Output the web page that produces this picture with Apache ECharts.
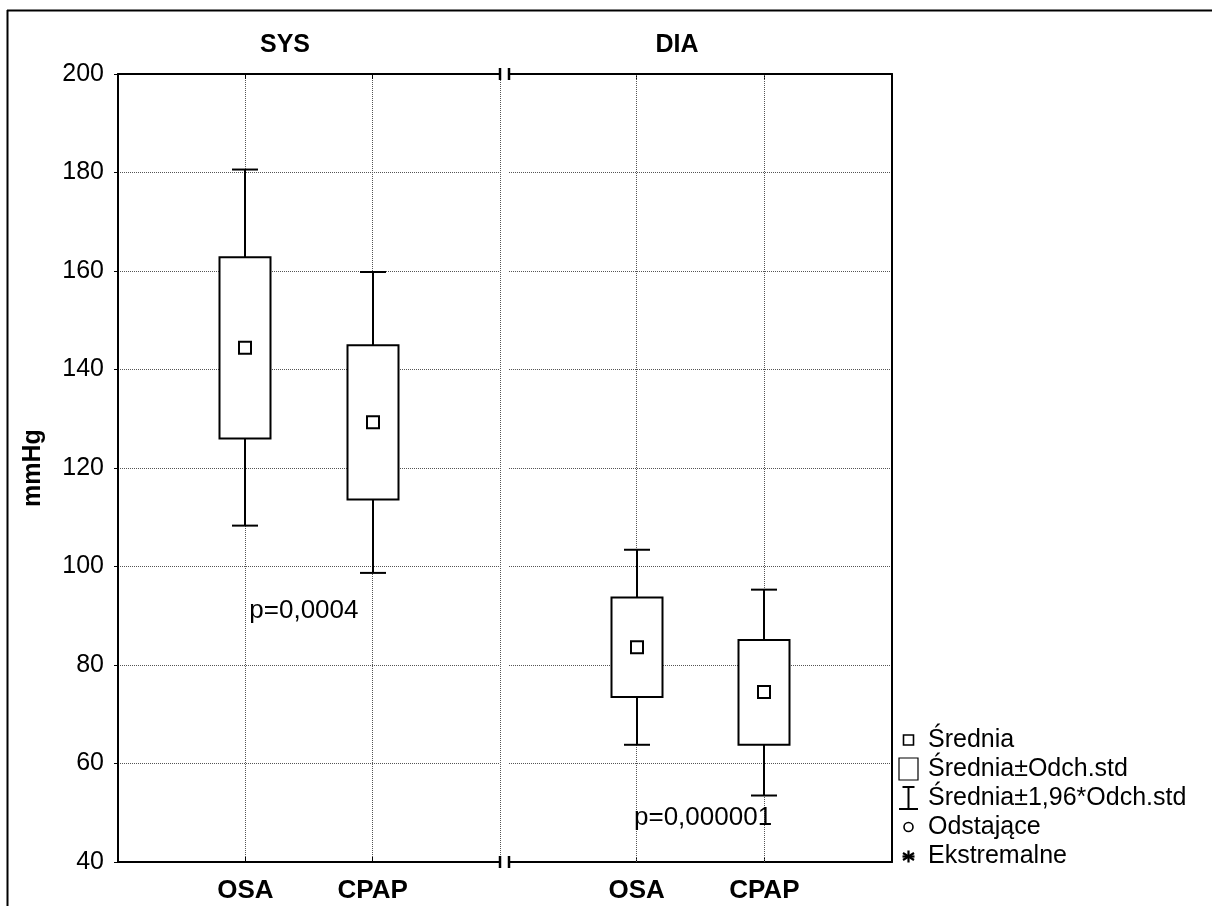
<!DOCTYPE html>
<html>
<head>
<meta charset="utf-8">
<title>SYS / DIA</title>
<script src="https://cdn.jsdelivr.net/npm/echarts@6/dist/echarts.min.js"></script>
<style>
  html, body { margin: 0; padding: 0; background: #fff; }
  #chart { width: 1212px; height: 906px; }
</style>
</head>
<body>
<div id="chart"></div>
<script>
// dane (mmHg)
var panels = ["SYS", "DIA"];
var categories = ["OSA", "CPAP"];
var yMin = 40, yMax = 200, yStep = 20;

var sysMean = [144.4, 129.3];
var sysSdLow = [126.0, 113.6];
var sysSdHigh = [162.8, 144.9];
var sysCiLow = [108.3, 98.7];
var sysCiHigh = [180.6, 159.8];

var diaMean = [83.6, 74.5];
var diaSdLow = [73.5, 63.8];
var diaSdHigh = [93.7, 85.1];
var diaCiLow = [63.8, 53.5];
var diaCiHigh = [103.4, 95.3];

var pTexts = ["p=0,0004", "p=0,000001"];
var pPos = [[1.46, 91.0], [1.52, 48.9]];

var legendTexts = ["Średnia", "Średnia±Odch.std", "Średnia±1,96*Odch.std", "Odstające", "Ekstremalne"];

var FONT = 'Arial, "Liberation Sans", sans-serif';
var GRID_LINE = { show: true, lineStyle: { type: "dotted", color: "#555", width: 1 } };

function rows(mean, sdLo, sdHi, ciLo, ciHi) {
  return categories.map(function (c, i) {
    return [i + 1, ciLo[i], sdLo[i], mean[i], sdHi[i], ciHi[i]];
  });
}

function ln(x1, y1, x2, y2) {
  return { type: "line", shape: { x1: x1, y1: y1, x2: x2, y2: y2 }, style: { stroke: "#000", lineWidth: 2 } };
}

function renderBox(params, api) {
  var x = api.value(0);
  var lo = api.coord([x, api.value(1)]);
  var bLo = api.coord([x, api.value(2)]);
  var m = api.coord([x, api.value(3)]);
  var bHi = api.coord([x, api.value(4)]);
  var hi = api.coord([x, api.value(5)]);
  var cx = Math.round(m[0]);
  var bw = 51, cw = 26, ms = 12;
  return {
    type: "group",
    children: [
      ln(cx, hi[1], cx, bHi[1]),
      ln(cx, lo[1], cx, bLo[1]),
      ln(cx - cw / 2, hi[1], cx + cw / 2, hi[1]),
      ln(cx - cw / 2, lo[1], cx + cw / 2, lo[1]),
      {
        type: "rect",
        shape: { x: cx - bw / 2, y: bHi[1], width: bw, height: bLo[1] - bHi[1] },
        style: { fill: "#fff", stroke: "#000", lineWidth: 2 }
      },
      {
        type: "rect",
        shape: { x: cx - ms / 2, y: m[1] - ms / 2, width: ms, height: ms },
        style: { fill: "#fff", stroke: "#000", lineWidth: 2 }
      }
    ]
  };
}

function textRenderer(label) {
  return function (params, api) {
    var p = api.coord([api.value(0), api.value(1)]);
    return {
      type: "text",
      x: p[0], y: p[1],
      style: { text: label, fill: "#000", font: "26px " + FONT, align: "center", verticalAlign: "middle" }
    };
  };
}

function xAxisBottom(gi) {
  return {
    type: "value", gridIndex: gi, min: 0, max: 3, interval: 1, position: "bottom",
    axisLine: { show: true, onZero: false, lineStyle: { color: "#000", width: 2 } },
    axisTick: { show: true, inside: true, length: 5, lineStyle: { color: "#000", width: 1 } },
    axisLabel: {
      margin: 16, color: "#000", fontSize: 26, fontWeight: "bold", fontFamily: FONT,
      formatter: function (v) { return categories[v - 1] || ""; }
    },
    splitLine: gi === 0 ? GRID_LINE : { show: false }
  };
}

function xAxisTop(gi) {
  return {
    type: "value", gridIndex: gi, min: 0, max: 3, interval: 1, position: "top",
    axisLine: { show: true, onZero: false, lineStyle: { color: "#000", width: 2 } },
    axisTick: { show: true, inside: true, length: 5, lineStyle: { color: "#000", width: 1 } },
    axisLabel: { show: false },
    splitLine: { show: false }
  };
}

var chart = echarts.init(document.getElementById("chart"));

var titleStyle = { fontSize: 25, fontWeight: "bold", color: "#000", fontFamily: FONT };

var option = {
  backgroundColor: "#fff",
  animation: false,
  title: [
    { text: panels[0], left: 280, top: 28, textAlign: "center", textStyle: titleStyle },
    { text: panels[1], left: 672, top: 28, textAlign: "center", textStyle: titleStyle }
  ],
  grid: [
    { left: 118, top: 74, width: 382, height: 788, outerBoundsMode: "none" },
    { left: 509, top: 74, width: 383, height: 788, outerBoundsMode: "none" }
  ],
  xAxis: [xAxisBottom(0), xAxisBottom(1), xAxisTop(0), xAxisTop(1)],
  yAxis: [
    {
      type: "value", gridIndex: 0, min: yMin, max: yMax, interval: yStep, position: "left",
      name: "mmHg", nameLocation: "middle", nameGap: 72, nameRotate: 90,
      nameTextStyle: { fontSize: 25, fontWeight: "bold", color: "#000", fontFamily: FONT },
      axisLine: { show: true, onZero: false, lineStyle: { color: "#000", width: 2 } },
      axisTick: { show: true, length: 4, lineStyle: { color: "#000", width: 1 } },
      axisLabel: { margin: 14, color: "#000", fontSize: 25, fontFamily: FONT },
      splitLine: GRID_LINE
    },
    {
      type: "value", gridIndex: 1, min: yMin, max: yMax, interval: yStep, position: "right",
      axisLine: { show: true, onZero: false, lineStyle: { color: "#000", width: 2 } },
      axisTick: { show: false },
      axisLabel: { show: false },
      splitLine: GRID_LINE
    }
  ],
  series: [
    {
      type: "custom", name: panels[0], xAxisIndex: 0, yAxisIndex: 0, z: 3,
      renderItem: renderBox, encode: { x: 0, y: [1, 2, 3, 4, 5] },
      data: rows(sysMean, sysSdLow, sysSdHigh, sysCiLow, sysCiHigh)
    },
    {
      type: "custom", name: panels[1], xAxisIndex: 1, yAxisIndex: 1, z: 3,
      renderItem: renderBox, encode: { x: 0, y: [1, 2, 3, 4, 5] },
      data: rows(diaMean, diaSdLow, diaSdHigh, diaCiLow, diaCiHigh),
      markLine: {
        silent: true, z: 1, symbol: ["none", "none"], label: { show: false },
        lineStyle: { type: "dotted", color: "#555", width: 1 },
        data: [{ xAxis: 1 }, { xAxis: 2 }]
      }
    },
    {
      type: "custom", xAxisIndex: 0, yAxisIndex: 0, z: 4,
      renderItem: textRenderer(pTexts[0]), data: [pPos[0]]
    },
    {
      type: "custom", xAxisIndex: 1, yAxisIndex: 1, z: 4,
      renderItem: textRenderer(pTexts[1]), data: [pPos[1]]
    }
  ]
};

chart.setOption(option);

// ramka, przerwa osi i legenda
var xEnd0 = chart.convertToPixel({ xAxisIndex: 0 }, 3);
var xStart1 = chart.convertToPixel({ xAxisIndex: 1 }, 0);
var yTop = chart.convertToPixel({ yAxisIndex: 0 }, yMax);
var yBot = chart.convertToPixel({ yAxisIndex: 0 }, yMin);

var gfx = [
  ln(7, 10.5, 1212, 10.5),
  ln(7.5, 10, 7.5, 906)
];
[xEnd0, xStart1].forEach(function (x) {
  [yTop, yBot].forEach(function (y) {
    var l = ln(x, y - 6, x, y + 6);
    l.style.lineWidth = 2.5;
    gfx.push(l);
  });
});

var lx = 908.5, tx = 928;
var ly = [740, 769, 798, 827, 856.5];
gfx.push({ type: "rect", shape: { x: lx - 5, y: ly[0] - 5, width: 10, height: 10 }, style: { fill: "#fff", stroke: "#000", lineWidth: 1.6 } });
gfx.push({ type: "rect", shape: { x: lx - 9.5, y: ly[1] - 11, width: 19, height: 22 }, style: { fill: "#fff", stroke: "#000", lineWidth: 1.2 } });
gfx.push(ln(lx - 6, ly[2] - 11, lx + 6, ly[2] - 11));
gfx.push(ln(lx, ly[2] - 11, lx, ly[2] + 11));
gfx.push(ln(lx - 9.5, ly[2] + 11, lx + 9.5, ly[2] + 11));
gfx.push({ type: "circle", shape: { cx: lx, cy: ly[3], r: 4.5 }, style: { fill: "#fff", stroke: "#000", lineWidth: 1.6 } });
[ln(lx, ly[4] - 6, lx, ly[4] + 6), ln(lx - 5.5, ly[4] - 3.5, lx + 5.5, ly[4] + 3.5),
 ln(lx - 5.5, ly[4] + 3.5, lx + 5.5, ly[4] - 3.5), ln(lx - 6, ly[4], lx + 6, ly[4])].forEach(function (l) {
  l.style.lineWidth = 2.2;
  gfx.push(l);
});
legendTexts.forEach(function (t, i) {
  gfx.push({
    type: "text", x: tx, y: ly[i],
    style: { text: t, fill: "#000", font: "25px " + FONT, align: "left", verticalAlign: "middle" }
  });
});

chart.setOption({ graphic: gfx });
</script>
</body>
</html>
